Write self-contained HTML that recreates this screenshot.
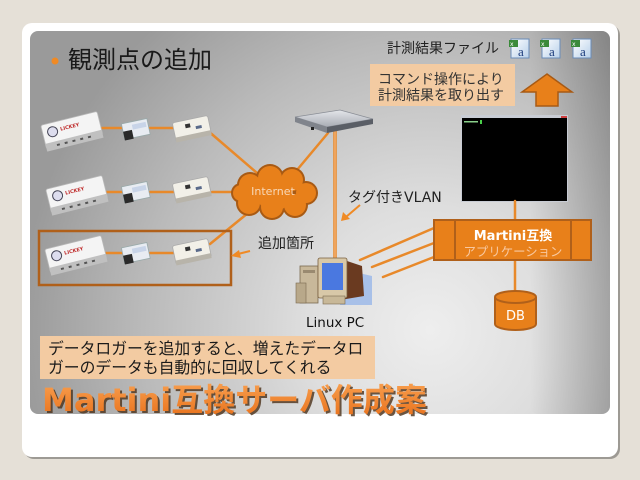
<!DOCTYPE html>
<html><head><meta charset="utf-8"><style>
html,body{margin:0;padding:0;background:#e5e0d7;}
svg{display:block;}
.jp{font-family:"Liberation Sans","Noto Sans CJK JP",sans-serif;}
.dv{font-family:"DejaVu Sans","Noto Sans CJK JP",sans-serif;}
</style></head><body>
<svg width="640" height="480" viewBox="0 0 640 480" xmlns="http://www.w3.org/2000/svg">
<defs>
<radialGradient id="bg" gradientUnits="userSpaceOnUse" cx="430" cy="330" r="410">
<stop offset="0" stop-color="#eeeeee"/>
<stop offset="0.3" stop-color="#dedede"/>
<stop offset="0.7" stop-color="#bababa"/>
<stop offset="1" stop-color="#9a9a9a"/>
</radialGradient>
<linearGradient id="rv" x1="0" y1="0" x2="1" y2="0">
<stop offset="0" stop-color="#000" stop-opacity="0"/>
<stop offset="1" stop-color="#000" stop-opacity="0.22"/>
</linearGradient>
<linearGradient id="ttl" x1="0" y1="0" x2="0" y2="1">
<stop offset="0" stop-color="#f8a050"/>
<stop offset="1" stop-color="#e8701a"/>
</linearGradient>
<linearGradient id="fil" x1="0" y1="0" x2="1" y2="1">
<stop offset="0" stop-color="#ffffff"/>
<stop offset="1" stop-color="#b8d0ea"/>
</linearGradient>
<linearGradient id="srv" x1="0" y1="0" x2="0" y2="1">
<stop offset="0" stop-color="#e4e6ea"/>
<stop offset="1" stop-color="#a8acb4"/>
</linearGradient>
</defs>

<rect x="24" y="25" width="596" height="434" rx="10" fill="#9d9a94"/>
<rect x="22" y="23" width="596" height="434" rx="10" fill="#ffffff"/>
<rect x="30" y="31" width="580" height="383" rx="8" fill="url(#bg)"/>
<rect x="530" y="31" width="80" height="383" rx="8" fill="url(#rv)"/>

<circle cx="55" cy="61" r="3.5" fill="#f08a24"/>
<text x="68" y="68" class="jp" font-size="24" fill="#1a1a1a">観測点の追加</text>

<text x="387" y="53" class="jp" font-size="14" fill="#222">計測結果ファイル</text>
<g>
<rect x="511" y="39" width="18" height="19" fill="url(#fil)" stroke="#6a8cb8" stroke-width="1"/>
<rect x="509" y="40" width="9" height="7" fill="#3a8a3a"/>
<text x="510" y="46" font-family="DejaVu Sans" font-size="6" fill="#fff">x</text>
<text x="518" y="56" font-family="Liberation Serif" font-size="13" fill="#1a3a7a">a</text>
</g>
<g>
<rect x="542" y="39" width="18" height="19" fill="url(#fil)" stroke="#6a8cb8" stroke-width="1"/>
<rect x="540" y="40" width="9" height="7" fill="#3a8a3a"/>
<text x="541" y="46" font-family="DejaVu Sans" font-size="6" fill="#fff">x</text>
<text x="549" y="56" font-family="Liberation Serif" font-size="13" fill="#1a3a7a">a</text>
</g>
<g>
<rect x="573" y="39" width="18" height="19" fill="url(#fil)" stroke="#6a8cb8" stroke-width="1"/>
<rect x="571" y="40" width="9" height="7" fill="#3a8a3a"/>
<text x="572" y="46" font-family="DejaVu Sans" font-size="6" fill="#fff">x</text>
<text x="580" y="56" font-family="Liberation Serif" font-size="13" fill="#1a3a7a">a</text>
</g>

<rect x="370" y="64" width="145" height="42" fill="#f3cba2"/>
<text x="378" y="84" class="jp" font-size="14" fill="#333">コマンド操作により</text>
<text x="378" y="100" class="jp" font-size="14" fill="#333">計測結果を取り出す</text>

<polygon points="547,74 572,92 558,92 558,106 536,106 536,92 522,92" fill="#e8801a" stroke="#a85a14" stroke-width="1.5"/>

<rect x="461" y="115" width="107" height="87" fill="#c8ccd4"/>
<rect x="462" y="118" width="105" height="83" fill="#000"/>
<rect x="561" y="116" width="6" height="2" fill="#d04040"/>
<rect x="464" y="121" width="14" height="1.5" fill="#8ad08a"/>
<rect x="480" y="120" width="2" height="4" fill="#4ad04a"/>

<g stroke="#e8892a" stroke-width="2.5" fill="none" stroke-linecap="round">
<line x1="102" y1="128" x2="122" y2="128"/>
<line x1="150" y1="128" x2="174" y2="128"/>
<line x1="106" y1="192" x2="122" y2="192"/>
<line x1="150" y1="192" x2="174" y2="192"/>
<line x1="104" y1="253" x2="122" y2="253"/>
<line x1="150" y1="253" x2="174" y2="253"/>
<line x1="207" y1="130" x2="257" y2="173"/>
<line x1="212" y1="192" x2="234" y2="192"/>
<line x1="248" y1="213" x2="210" y2="244"/>
<line x1="328" y1="133" x2="297" y2="170"/>
<line x1="360" y1="260" x2="434" y2="228"/>
<line x1="372" y1="267" x2="434" y2="243"/>
<line x1="383" y1="277" x2="434" y2="257"/>
<line x1="515" y1="201" x2="515" y2="221"/>
<line x1="515" y1="259" x2="515" y2="292"/>
</g>
<line x1="335" y1="130" x2="335" y2="258" stroke="#e8892a" stroke-width="3.5"/>
<line x1="335" y1="130" x2="335" y2="258" stroke="#f6c090" stroke-width="1"/>

<polygon points="295,117 340,110 373,119 327,127" fill="url(#srv)" stroke="#8a8e96" stroke-width="0.8"/>
<polygon points="327,127 373,119 373,124 327,133" fill="#5a5e66"/>
<polygon points="295,117 327,127 327,133 295,122" fill="#80848c"/>
<rect x="311" y="127" width="3" height="3" fill="#222"/>

<g fill="#a85a14">
<circle cx="250" cy="185" r="13"/><circle cx="270" cy="178" r="14"/><circle cx="292" cy="180" r="13"/>
<circle cx="306" cy="193" r="12"/><circle cx="295" cy="205" r="13"/><circle cx="272" cy="207" r="13"/>
<circle cx="249" cy="203" r="13"/><circle cx="241" cy="193" r="10"/>
</g>
<g fill="#e8801a">
<circle cx="250" cy="185" r="11"/><circle cx="270" cy="178" r="12"/><circle cx="292" cy="180" r="11"/>
<circle cx="306" cy="193" r="10"/><circle cx="295" cy="205" r="11"/><circle cx="272" cy="207" r="11"/>
<circle cx="249" cy="203" r="11"/><circle cx="241" cy="193" r="8"/><circle cx="274" cy="193" r="18"/>
</g>
<text x="273" y="195" text-anchor="middle" class="dv" font-size="11" fill="#f8d8b8">Internet</text>

<g transform="translate(72,131) rotate(-14)">
<rect x="-29" y="-13" width="58" height="24" rx="2" fill="#f4f4f4" stroke="#b8b8b8" stroke-width="0.8"/>
<rect x="-29" y="6" width="58" height="8" fill="#c0c0c0"/>
<circle cx="-19" cy="-4" r="5" fill="#dde" stroke="#445" stroke-width="1"/>
<text x="-11" y="-3" font-family="DejaVu Sans" font-size="5" font-weight="bold" fill="#c03030">LICKEY</text>
<g fill="#555"><rect x="-18" y="9" width="3" height="2"/><rect x="-10" y="9" width="3" height="2"/><rect x="-2" y="9" width="3" height="2"/><rect x="6" y="9" width="3" height="2"/><rect x="14" y="9" width="3" height="2"/></g>
</g>
<g transform="translate(77,195) rotate(-14)">
<rect x="-29" y="-13" width="58" height="24" rx="2" fill="#f4f4f4" stroke="#b8b8b8" stroke-width="0.8"/>
<rect x="-29" y="6" width="58" height="8" fill="#c0c0c0"/>
<circle cx="-19" cy="-4" r="5" fill="#dde" stroke="#445" stroke-width="1"/>
<text x="-11" y="-3" font-family="DejaVu Sans" font-size="5" font-weight="bold" fill="#c03030">LICKEY</text>
<g fill="#555"><rect x="-18" y="9" width="3" height="2"/><rect x="-10" y="9" width="3" height="2"/><rect x="-2" y="9" width="3" height="2"/><rect x="6" y="9" width="3" height="2"/><rect x="14" y="9" width="3" height="2"/></g>
</g>
<g transform="translate(76,255) rotate(-14)">
<rect x="-29" y="-13" width="58" height="24" rx="2" fill="#f4f4f4" stroke="#b8b8b8" stroke-width="0.8"/>
<rect x="-29" y="6" width="58" height="8" fill="#c0c0c0"/>
<circle cx="-19" cy="-4" r="5" fill="#dde" stroke="#445" stroke-width="1"/>
<text x="-11" y="-3" font-family="DejaVu Sans" font-size="5" font-weight="bold" fill="#c03030">LICKEY</text>
<g fill="#555"><rect x="-18" y="9" width="3" height="2"/><rect x="-10" y="9" width="3" height="2"/><rect x="-2" y="9" width="3" height="2"/><rect x="6" y="9" width="3" height="2"/><rect x="14" y="9" width="3" height="2"/></g>
</g>

<g transform="translate(136,130) rotate(-12)"><rect x="-13" y="-9" width="26" height="16" fill="#e8ecf2" stroke="#9aa" stroke-width="0.8"/><rect x="-13" y="-1" width="9" height="9" fill="#2a2a2a"/><rect x="-3" y="-6" width="14" height="5" fill="#c8d4e8"/></g>
<g transform="translate(136,193) rotate(-12)"><rect x="-13" y="-9" width="26" height="16" fill="#e8ecf2" stroke="#9aa" stroke-width="0.8"/><rect x="-13" y="-1" width="9" height="9" fill="#2a2a2a"/><rect x="-3" y="-6" width="14" height="5" fill="#c8d4e8"/></g>
<g transform="translate(136,254) rotate(-12)"><rect x="-13" y="-9" width="26" height="16" fill="#e8ecf2" stroke="#9aa" stroke-width="0.8"/><rect x="-13" y="-1" width="9" height="9" fill="#2a2a2a"/><rect x="-3" y="-6" width="14" height="5" fill="#c8d4e8"/></g>

<g transform="translate(192,129) rotate(-12)"><rect x="-18" y="-10" width="36" height="19" rx="2" fill="#f2f0e8" stroke="#aaa" stroke-width="0.8"/><rect x="-18" y="5" width="36" height="5" fill="#b8b4aa"/><rect x="-6" y="-6" width="5" height="4" fill="#333"/><rect x="4" y="-2" width="6" height="3" fill="#5a6a8a"/></g>
<g transform="translate(192,190) rotate(-12)"><rect x="-18" y="-10" width="36" height="19" rx="2" fill="#f2f0e8" stroke="#aaa" stroke-width="0.8"/><rect x="-18" y="5" width="36" height="5" fill="#b8b4aa"/><rect x="-6" y="-6" width="5" height="4" fill="#333"/><rect x="4" y="-2" width="6" height="3" fill="#5a6a8a"/></g>
<g transform="translate(192,252) rotate(-12)"><rect x="-18" y="-10" width="36" height="19" rx="2" fill="#f2f0e8" stroke="#aaa" stroke-width="0.8"/><rect x="-18" y="5" width="36" height="5" fill="#b8b4aa"/><rect x="-6" y="-6" width="5" height="4" fill="#333"/><rect x="4" y="-2" width="6" height="3" fill="#5a6a8a"/></g>

<rect x="39" y="231" width="192" height="54" fill="none" stroke="#b0601a" stroke-width="2.5"/>

<text x="348" y="202" class="dv" font-size="14" fill="#222">タグ付きVLAN</text>
<line x1="360" y1="205" x2="346" y2="217" stroke="#f08a24" stroke-width="2"/>
<polygon points="341,221 343,212 350,219" fill="#f08a24"/>
<text x="258" y="248" class="jp" font-size="14" fill="#222">追加箇所</text>
<line x1="250" y1="251" x2="238" y2="254" stroke="#f08a24" stroke-width="2"/>
<polygon points="231,256 239,250 241,258" fill="#f08a24"/>

<polygon points="346,270 372,276 372,305 340,305" fill="#a8c0e8"/>
<rect x="300" y="266" width="18" height="37" fill="#c8b89a" stroke="#7a6a50" stroke-width="0.8"/>
<rect x="303" y="270" width="12" height="3" fill="#9a8a70"/>
<rect x="296" y="283" width="10" height="20" fill="#b8a88a" stroke="#7a6a50" stroke-width="0.6"/>
<polygon points="338,258 362,266 364,296 340,300" fill="#6a3a20"/>
<rect x="318" y="258" width="29" height="40" rx="2" fill="#d8c8a8" stroke="#7a6040" stroke-width="0.8"/>
<rect x="322" y="263" width="21" height="27" fill="#4a78e0"/>
<rect x="323" y="296" width="22" height="8" fill="#c8b898" stroke="#7a6a50" stroke-width="0.6"/>
<text x="306" y="327" class="dv" font-size="13.5" fill="#111">Linux PC</text>

<rect x="434" y="220" width="157" height="40" fill="#e8801a" stroke="#b0601a" stroke-width="2"/>
<line x1="455" y1="220" x2="455" y2="260" stroke="#b0601a" stroke-width="2"/>
<line x1="571" y1="220" x2="571" y2="260" stroke="#b0601a" stroke-width="2"/>
<text x="513" y="240" text-anchor="middle" class="dv" font-size="13" font-weight="bold" fill="#ffffff">Martini互換</text>
<text x="513" y="256" text-anchor="middle" class="jp" font-size="12.4" fill="#f8c8a0">アプリケーション</text>

<path d="M495,297 L495,324 A20.5,6 0 0 0 536,324 L536,297" fill="#e8801a" stroke="#b0601a" stroke-width="2"/>
<ellipse cx="515.5" cy="297" rx="20.5" ry="6" fill="#e8801a" stroke="#b0601a" stroke-width="2"/>
<text x="515.5" y="320" text-anchor="middle" class="dv" font-size="13" fill="#ffffff">DB</text>

<rect x="40" y="336" width="335" height="43" fill="#f3cba2"/>
<text x="48" y="354" class="jp" font-size="15.8" fill="#1a1a1a">データロガーを追加すると、増えたデータロ</text>
<text x="48" y="373" class="jp" font-size="15.8" fill="#1a1a1a">ガーのデータも自動的に回収してくれる</text>

<text x="44" y="413" class="dv" font-size="32" font-weight="bold" fill="#4a3018" fill-opacity="0.8">Martini互換サーバ作成案</text>
<text x="42" y="411" class="dv" font-size="32" font-weight="bold" fill="url(#ttl)">Martini互換サーバ作成案</text>
</svg>
</body></html>
